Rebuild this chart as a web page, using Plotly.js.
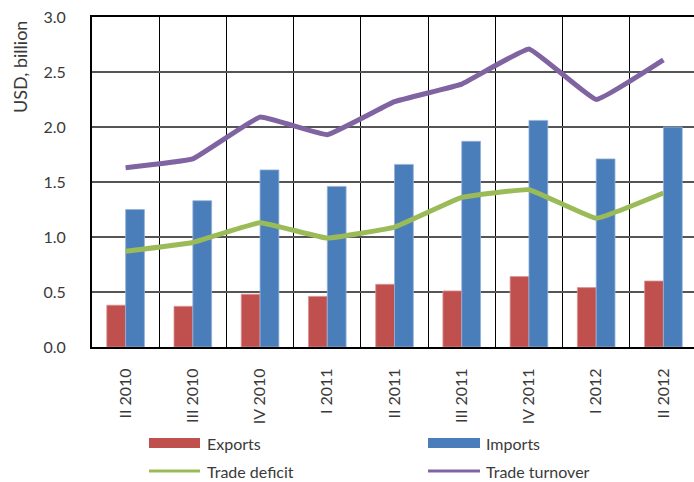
<!DOCTYPE html>
<html><head><meta charset="utf-8">
<script src="https://cdn.plot.ly/plotly-3.0.1.min.js"></script>
<style>html,body{margin:0;padding:0;overflow:hidden;background:#fff}</style>
</head><body><div id="chart" style="width:694px;height:482px"></div>
<script>
const quarters = ["II 2010","III 2010","IV 2010","I 2011","II 2011","III 2011","IV 2011","I 2012","II 2012"];
const exportsVals = [0.38,0.37,0.48,0.46,0.57,0.51,0.64,0.54,0.60];
const importsVals = [1.25,1.33,1.61,1.46,1.66,1.87,2.06,1.71,2.00];
const deficitVals = [0.87,0.95,1.13,0.99,1.09,1.36,1.43,1.17,1.40];
const turnoverVals = [1.63,1.71,2.09,1.93,2.23,2.39,2.71,2.25,2.61];
const yTicks = [0,0.5,1.0,1.5,2.0,2.5,3.0];
const legendNames = ["Exports","Imports","Trade deficit","Trade turnover"];

const C = {exp:"#C0504D", imp:"#4A7EBB", def:"#9BBB59", turn:"#8064A2"};
const font = "Lato, 'Open Sans', sans-serif";
const txt = "#3a3a3a";

const traces = [
  {type:"bar", x:quarters, y:exportsVals, name:legendNames[0], marker:{color:C.exp, line:{color:"#D99694",width:0.8}}},
  {type:"bar", x:quarters, y:importsVals, name:legendNames[1], marker:{color:C.imp, line:{color:"#95B3D7",width:0.8}}},
  {type:"scatter", mode:"lines", x:quarters, y:deficitVals, name:legendNames[2], line:{color:C.def,width:5,shape:"spline",smoothing:0.25}},
  {type:"scatter", mode:"lines", x:quarters, y:turnoverVals, name:legendNames[3], line:{color:C.turn,width:5,shape:"spline",smoothing:0.25}}
];

// legend drawn in paper coords (plot area: x 92..694, y 17..347)
const L = 92, W = 602, T = 17, H = 330;
const px = v => (v - L) / W;
const py = v => (T + H - v) / H;
const shapes = [
  {type:"rect", xref:"paper", yref:"paper", x0:px(149), x1:px(200), y0:py(438), y1:py(448), fillcolor:C.exp, line:{width:0}},
  {type:"rect", xref:"paper", yref:"paper", x0:px(428), x1:px(480), y0:py(438), y1:py(448), fillcolor:C.imp, line:{width:0}},
  {type:"line", xref:"paper", yref:"paper", x0:px(149), x1:px(200), y0:py(471), y1:py(471), line:{color:C.def,width:3}},
  {type:"line", xref:"paper", yref:"paper", x0:px(428), x1:px(480), y0:py(471), y1:py(471), line:{color:C.turn,width:3}}
];
const legPos = [[205,443],[484,443],[205,471],[484,471]];
const annotations = legendNames.map((n,i)=>({
  text:n, xref:"paper", yref:"paper", x:px(legPos[i][0]), y:py(legPos[i][1]),
  xanchor:"left", yanchor:"middle", showarrow:false, font:{family:font,size:16,color:txt}
}));
annotations.push({text:"USD, billion", xref:"paper", yref:"paper", x:px(20), y:py(67),
  xanchor:"center", yanchor:"middle", textangle:-90, showarrow:false, font:{family:font,size:18,color:txt}});

const layout = {
  width:694, height:482,
  margin:{l:92, r:0, t:17, b:135, pad:0},
  paper_bgcolor:"#fff", plot_bgcolor:"#fff",
  showlegend:false,
  barmode:"group", bargap:0.44, bargroupgap:0,
  font:{family:font, size:16, color:txt},
  xaxis:{type:"category", range:[-0.5, 8.455], tickson:"boundaries", showgrid:true, gridcolor:"#000", gridwidth:1,
    ticks:"", tickangle:-90, ticklabelstandoff:13, showline:true, linecolor:"#000", linewidth:2, mirror:true,
    tickfont:{family:font,size:16,color:txt}, fixedrange:true},
  yaxis:{range:[0,3], tickvals:yTicks, ticktext:yTicks.map(v=>v.toFixed(1)), showgrid:true, gridcolor:"#555", gridwidth:1.5,
    zeroline:false, showline:true, linecolor:"#000", linewidth:2, ticks:"", ticklabelstandoff:21,
    tickfont:{family:font,size:16,color:txt}, fixedrange:true},
  shapes:shapes, annotations:annotations
};
Plotly.newPlot("chart", traces, layout, {displayModeBar:false, staticPlot:true});
</script></body></html>
